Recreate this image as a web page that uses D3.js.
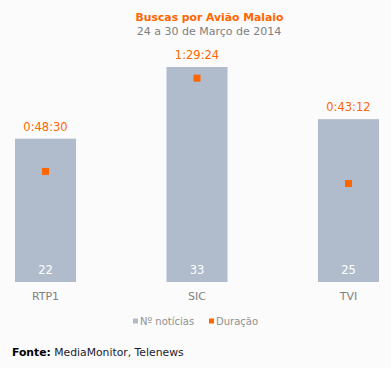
<!DOCTYPE html>
<html><head><meta charset="utf-8">
<script src="https://cdn.jsdelivr.net/npm/d3@7"></script>
<style>
body{margin:0;background:#fbfbfb;}
svg{display:block;font-family:"DejaVu Sans",Verdana,sans-serif;}
</style></head>
<body><svg id="c" width="391" height="368"></svg>
<script>
const categories = ["RTP1", "SIC", "TVI"];
const noticias = [22, 33, 25];
const duracaoLabels = ["0:48:30", "1:29:24", "0:43:12"];
const duracaoSeconds = [2910, 5364, 2592];
const seriesNames = ["Nº notícias", "Duração"];

const svg = d3.select("#c");
svg.append("rect").attr("width",391).attr("height",368).attr("fill","#fbfbfb");

const x = d3.scaleBand().domain(categories).range([15, 379]).paddingInner(0.597).paddingOuter(0);
const y = d3.scaleLinear().domain([0, 35]).range([282, 54]);
const y2 = d3.scaleLinear().domain([0, 6000]).range([282, 54]);

const orange = "#ff6600", barCol = "#b0bccc";

svg.append("text").attr("x",209.5).attr("y",21).attr("text-anchor","middle")
  .attr("font-size",10.8).attr("font-weight","bold").attr("fill",orange).text("Buscas por Avião Malaio");
svg.append("text").attr("x",209).attr("y",35).attr("text-anchor","middle")
  .attr("font-size",11).attr("fill","#808080").text("24 a 30 de Março de 2014");

const data = categories.map((c,i)=>({c, n:noticias[i], d:duracaoSeconds[i], l:duracaoLabels[i]}));

svg.selectAll("rect.bar").data(data).join("rect").attr("class","bar")
  .attr("x",d=>x(d.c)).attr("width",x.bandwidth())
  .attr("y",d=>y(d.n)).attr("height",d=>y(0)-y(d.n)).attr("fill",barCol);

svg.selectAll("text.dl").data(data).join("text").attr("class","dl")
  .attr("x",d=>x(d.c)+x.bandwidth()/2).attr("y",d=>y(d.n)-8)
  .attr("text-anchor","middle").attr("font-size",11.5).attr("fill",orange).text(d=>d.l);

svg.selectAll("text.nl").data(data).join("text").attr("class","nl")
  .attr("x",d=>x(d.c)+x.bandwidth()/2).attr("y",274)
  .attr("text-anchor","middle").attr("font-size",11.5).attr("fill","#ffffff").text(d=>d.n);

svg.selectAll("rect.pt").data(data).join("rect").attr("class","pt")
  .attr("x",d=>x(d.c)+x.bandwidth()/2-3.5).attr("y",d=>y2(d.d)-3.5)
  .attr("width",7).attr("height",7).attr("fill",orange);

const xAxis = svg.append("g").attr("transform","translate(0,282)")
  .call(d3.axisBottom(x).tickSize(0).tickPadding(10));
xAxis.select(".domain").remove();
xAxis.selectAll("text").attr("font-size",11).attr("fill","#808080")
  .attr("font-family","DejaVu Sans, Verdana, sans-serif");

const leg = svg.append("g");
const legItems = [{t:seriesNames[0], c:barCol, x:133},{t:seriesNames[1], c:orange, x:209}];
legItems.forEach(it=>{
  leg.append("rect").attr("x",it.x).attr("y",318.5).attr("width",5).attr("height",5).attr("fill",it.c);
  leg.append("text").attr("x",it.x+7).attr("y",325).attr("font-size",10).attr("fill","#909090").text(it.t);
});

const f = svg.append("text").attr("x",12).attr("y",356).attr("font-size",10.8).attr("fill","#1a1a2e");
f.append("tspan").attr("font-weight","bold").attr("fill","#000").text("Fonte:");
f.append("tspan").text(" MediaMonitor, Telenews");
</script></body></html>
